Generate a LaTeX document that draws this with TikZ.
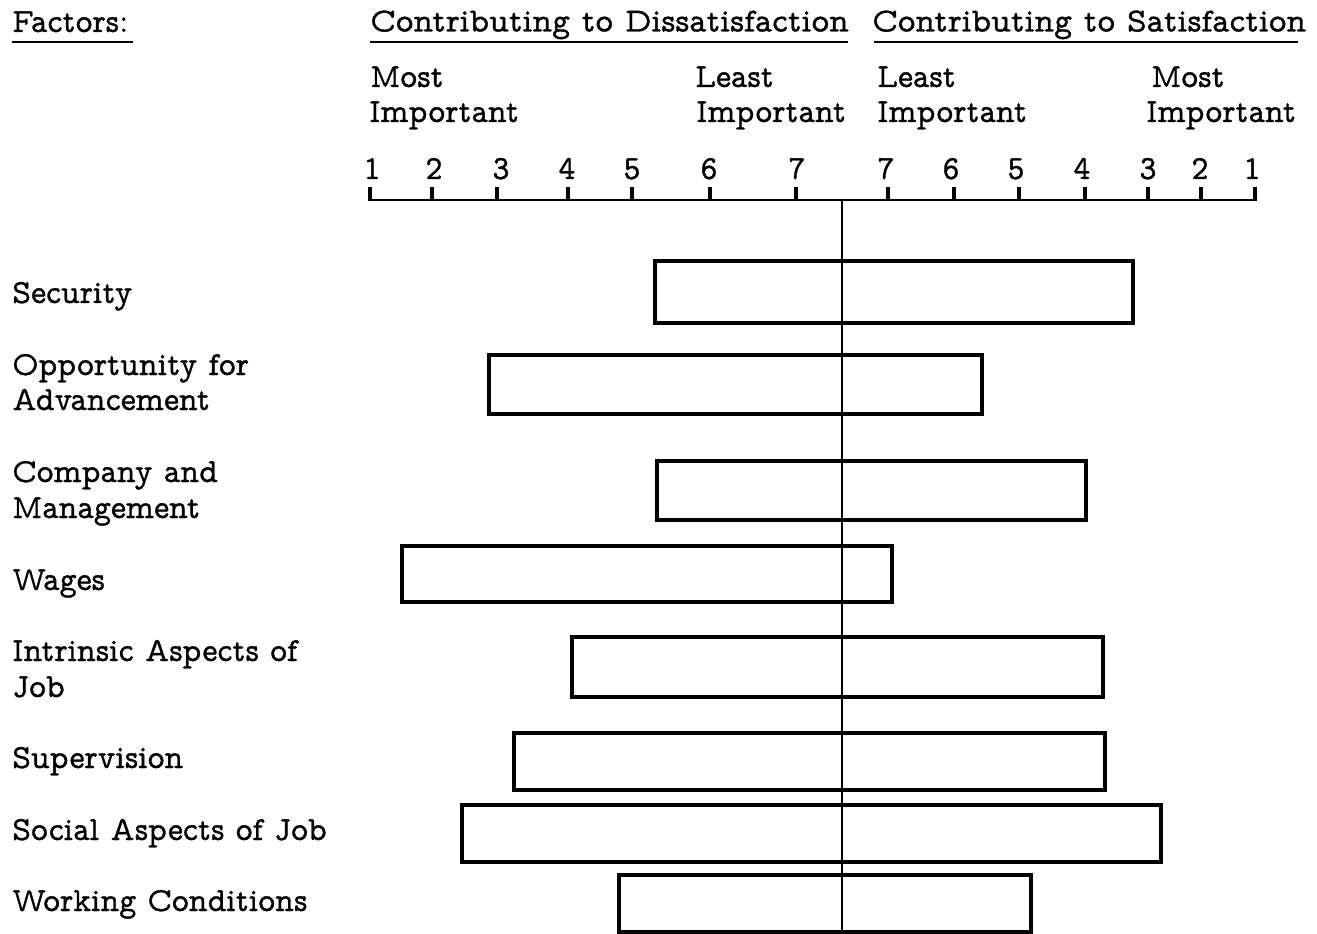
\documentclass[tikz,border=0pt]{standalone}
\usepackage{fontspec}
\newfontfamily\tw{lmmonoprop10-regular.otf}[FakeBold=1.0,FakeStretch=0.955]
\newfontfamily\twh{lmmonoprop10-regular.otf}[FakeBold=1.0]
\begin{document}
\begin{tikzpicture}[x=0.75pt,y=-0.75pt,
  lbl/.style={anchor=base west, inner sep=0pt, font={\tw\fontsize{25.3}{30}\selectfont}},
  hlbl/.style={anchor=base west, inner sep=0pt, font={\twh\fontsize{25.3}{30}\selectfont}},
  num/.style={anchor=base, inner sep=0pt, font={\tw\fontsize{25.3}{30}\selectfont}},
  uline/.style={line width=1.7pt},
  axisline/.style={line width=1.9pt},
  tickmark/.style={line width=2.4pt},
  midline/.style={line width=1.6pt},
  barbox/.style={draw, line width=2.3pt}]
\useasboundingbox (0,0) rectangle (1317,934);
% headers
\node[lbl] (factors) at (12,32) {Factors:};
\draw[uline] (12,42) -- (133,42);
\node[hlbl] (hdis) at (370,31.5) {Contributing to Dissatisfaction};
\draw[uline] (370,42) -- (848,42);
\node[hlbl] (hsat) at (872,31.5) {Contributing to Satisfaction};
\draw[uline] (874,42) -- (1298,42);
\node[lbl] (mostL) at (370,87) {Most};
\node[lbl] (impL1) at (369,122) {Important};
\node[lbl] (leastL) at (695,87) {Least};
\node[lbl] (impL2) at (696,122) {Important};
\node[lbl] (leastR) at (877,87) {Least};
\node[lbl] (impR1) at (877,122) {Important};
\node[lbl] (mostR) at (1151,87) {Most};
\node[lbl] (impR2) at (1146,122) {Important};
% axis
\draw[axisline] (368,200) -- (1257,200);
\foreach \t in {370,432,497,568,632,710,796,888,954,1019,1085,1148,1201,1255}
  \draw[tickmark] (\t,187) -- (\t,200);
\foreach \x/\n [count=\i] in {372/1,434/2,501/3,567/4,632/5,709/6,797/7,886/7,951/6,1016/5,1082/4,1148/3,1200/2,1252/1}
  \node[num] (n\i) at (\x,179) {\n};
% centre line
\coordinate (ctop) at (842,200);
\coordinate (cbot) at (842,934);
\draw[midline] (ctop) -- (cbot);
% bars
\foreach \l/\r/\t/\b [count=\i] in {655/1133/261/323, 489/982/355/414, 657/1086/461/520, 402/892/546/602, 572/1103/637/697, 514/1105/733/790, 462/1161/805/862, 619/1031/875/932}
  \draw[barbox] (\l,\t) rectangle (\r,\b);
% factor labels
\node[lbl] (f1) at (12,303) {Security};
\node[lbl] (f2a) at (12,375) {Opportunity for};
\node[lbl] (f2b) at (12,410) {Advancement};
\node[lbl] (f3a) at (12,482) {Company and};
\node[lbl] (f3b) at (12,518) {Management};
\node[lbl] (f4) at (12,590) {Wages};
\node[lbl] (f5a) at (12,661) {Intrinsic Aspects of};
\node[lbl] (f5b) at (12,697) {Job};
\node[lbl] (f6) at (12,768) {Supervision};
\node[lbl] (f7) at (12,840) {Social Aspects of Job};
\node[lbl] (f8) at (12,911) {Working Conditions};
\end{tikzpicture}
\end{document}
